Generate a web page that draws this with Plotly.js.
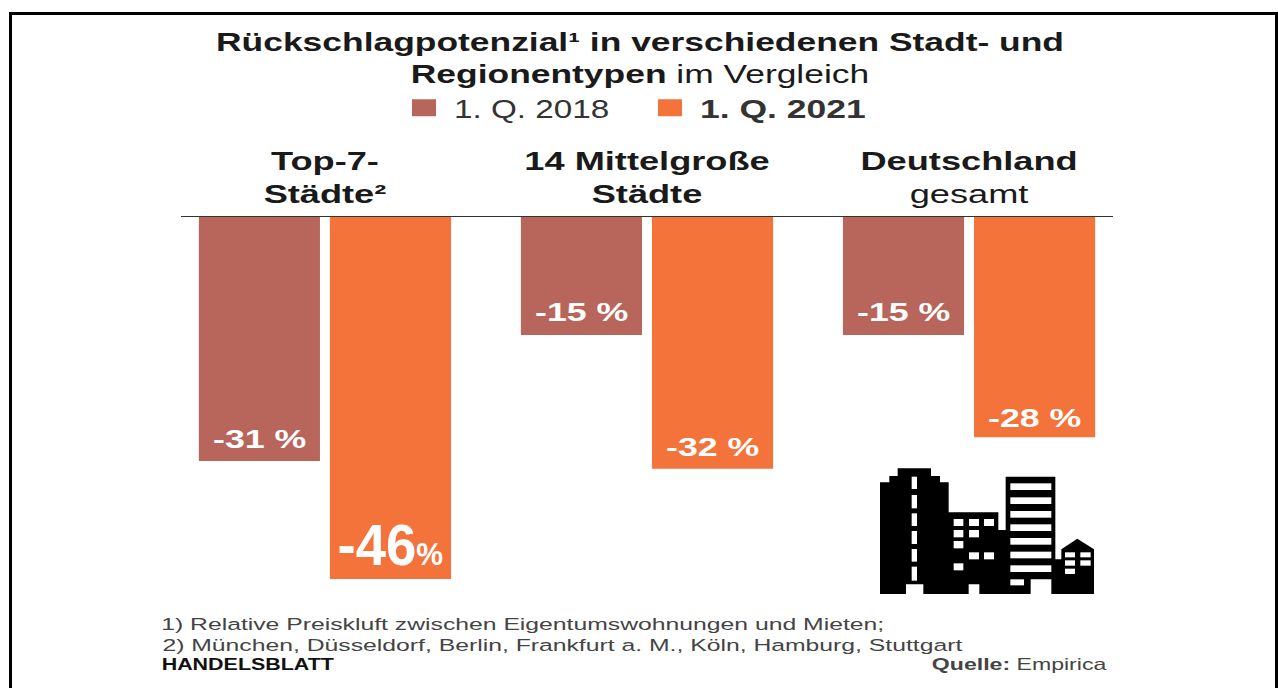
<!DOCTYPE html>
<html><head><meta charset="utf-8">
<script src="https://cdn.plot.ly/plotly-3.0.1.min.js"></script>
<style>
html,body{margin:0;padding:0;background:#fff}
.gtitle{transform-box:fill-box;transform-origin:center;transform:scaleX(1.417)}
g.xtick{transform-box:fill-box;transform-origin:center;transform:scaleX(1.42)}
.legendtext{transform-box:fill-box;transform-origin:left center;transform:scaleX(1.33)}
.legend .traces:nth-child(2) .legendtext{transform:scaleX(1.42)}
.legend .traces path{d:path("M12,8.5H-12V-8.5H12Z") !important}
.annotation-text{transform-box:fill-box;transform-origin:center;transform:scaleX(1.43)}
[data-index="3"] .annotation-text{transform:scaleX(.94)}
[data-index="6"] .annotation-text,[data-index="7"] .annotation-text{transform:scaleX(1.5)}
[data-index="8"] .annotation-text{transform:scaleX(1.3)}
[data-index="9"] .annotation-text{transform:scaleX(1.4)}
</style></head><body><div id="chart" style="width:1278px;height:688px"></div>
<script>
const categories = ["<b>Top-7-</b><br><b>Städte²</b>", "<b>14 Mittelgroße</b><br><b>Städte</b>", "<b>Deutschland</b><br>gesamt"];
const values2018 = [-31, -15, -15];
const values2021 = [-46, -32, -28];
const name2018 = "1. Q. 2018";
const name2021 = "<b>1. Q. 2021</b>";
const color2018 = "#B8665C";
const color2021 = "#F4733A";
const titleText = "<b>Rückschlagpotenzial¹ in verschiedenen Stadt- und</b><br><b>Regionentypen</b> im Vergleich";
const footnotes = ["1) Relative Preiskluft zwischen Eigentumswohnungen und Mieten;", "2) München, Düsseldorf, Berlin, Frankfurt a. M., Köln, Hamburg, Stuttgart"];
const shift2018 = [6, 7, 7];
const shift2021 = [0, 6, 3];

const W=1278,H=688,L=181,R=1113,T=217,B=579;
const px=x=>(x-L)/(R-L), py=y=>(B-y)/(B-T);
const sans="'Liberation Sans', sans-serif";

const icon=`<svg xmlns="http://www.w3.org/2000/svg" viewBox="0 0 780 480" width="780" height="480"><path fill="#000" d="M60,432V97H88V78H113V55H213V78H240V97H266V187H415V240H437V80H586V328H604V298L652,266L702,298V432H574V388H512V432H358V403H326V432H190V403H138V432Z"/><g fill="#fff">`+
 [[155,80,16,37],[155,135,16,40],[155,190,16,38],[155,243,16,39],[155,297,16,38],[155,350,16,42],
  [281,207,29,21],[327,207,30,21],[372,207,30,21],[281,240,29,22],[327,240,30,22],[281,273,29,22],[327,307,30,21],[372,307,30,21],[281,340,29,21],
  [451,100,123,20],[451,142,123,20],[451,183,123,20],[451,223,123,20],[451,264,123,20],[451,305,123,20],[451,346,123,20],[451,388,41,18],
  [615,307,30,15],[661,307,31,15],[615,331,30,16],[661,331,31,16],[615,356,30,16]]
 .map(r=>`<rect x="${r[0]}" y="${r[1]}" width="${r[2]}" height="${r[3]}"/>`).join("")+`</g></svg>`;

const offs=0.2035;
const labels=[];
values2018.forEach((v,i)=>labels.push({x:i-offs,y:v,text:`<b>${v} %</b>`,size:25,yshift:shift2018[i]}));
values2021.forEach((v,i)=>labels.push({x:i+offs,y:v,text:i===0?`<b>${v}<span style="font-size:32px">%</span></b>`:`<b>${v} %</b>`,size:i===0?58:25,yshift:shift2021[i]}));

const anns=labels.map(l=>({xref:"x",yref:"y",x:l.x,y:l.y,text:l.text,showarrow:false,yanchor:"bottom",yshift:l.yshift,
  font:{family:sans,size:l.size,color:"#fff"}}));
const foot=(text,x,y,color)=>({xref:"paper",yref:"paper",x:px(x),y:py(y),text,showarrow:false,xanchor:"center",yanchor:"middle",
  font:{family:sans,size:16.5,color:color||"#444"}});
anns.push(foot(footnotes[0],522,624),foot(footnotes[1],562,645),
  foot("<b>HANDELSBLATT</b>",247.5,664,"#111"),
  foot("<b>Quelle:</b> Empirica",1019.5,664));

const frame=(x0,y0,x1,y1)=>({type:"rect",xref:"paper",yref:"paper",x0:px(x0),x1:px(x1),y0:py(y0),y1:py(y1),fillcolor:"#000",line:{width:0},layer:"above"});

Plotly.newPlot("chart",[
 {type:"bar",name:name2018,x:categories,y:values2018,marker:{color:color2018},hoverinfo:"skip"},
 {type:"bar",name:name2021,x:categories,y:values2021,marker:{color:color2021},hoverinfo:"skip"}
],{
 width:W,height:H,autosize:false,paper_bgcolor:"#fff",plot_bgcolor:"#fff",
 margin:{l:L,r:W-R,t:T,b:H-B,pad:0},
 barmode:"group",bargap:0.186,bargroupgap:0.076,
 title:{text:titleText,font:{family:sans,size:25,color:"#1a1a1a"},x:px(640),xref:"paper",xanchor:"center",y:1-51/H,yanchor:"middle"},
 xaxis:{side:"top",type:"category",range:[-0.447,2.447],autorange:false,showgrid:false,zeroline:false,showline:true,linecolor:"#333",linewidth:1.5,ticks:"",ticklabelstandoff:2,tickangle:0,
   tickfont:{family:sans,size:25.5,color:"#1a1a1a"},fixedrange:true},
 yaxis:{range:[-46,0],autorange:false,visible:false,fixedrange:true},
 legend:{orientation:"h",x:px(394),xanchor:"left",y:py(108),yanchor:"middle",font:{family:sans,size:25,color:"#333"},itemclick:false,itemdoubleclick:false,bgcolor:"rgba(0,0,0,0)",itemwidth:50,entrywidth:181,entrywidthmode:"pixels",traceorder:"normal"},
 annotations:anns,
 shapes:[frame(9,12,1278,15),frame(9,12,12,688),frame(1275,12,1278,688)],
 images:[{source:"data:image/svg+xml;charset=utf-8,"+encodeURIComponent(icon),xref:"paper",yref:"paper",x:px(860),y:py(450),sizex:260/(R-L),sizey:160/(B-T),xanchor:"left",yanchor:"top",sizing:"stretch",layer:"above"}]
},{displayModeBar:false,staticPlot:true});
</script></body></html>
